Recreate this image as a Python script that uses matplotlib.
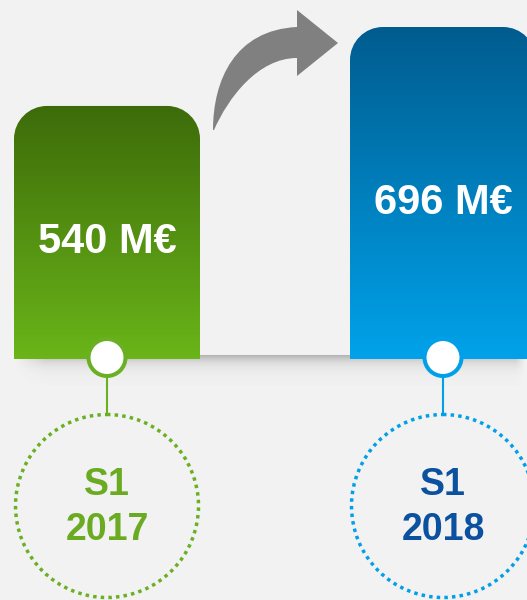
import numpy as np
import matplotlib
matplotlib.use("Agg")
import matplotlib.pyplot as plt
from matplotlib.path import Path
from matplotlib.patches import PathPatch, Circle
from matplotlib.colors import to_rgb

# ---- data ----
periods = ["S1", "S1"]
years = ["2017", "2018"]
values = [540, 696]
value_labels = ["540 M€", "696 M€"]

# ---- style ----
bg = "#f2f2f2"
grad_top = ["#3d6b0a", "#005c8f"]
grad_bot = ["#6ab519", "#00a2ea"]
ring_col = ["#6ab023", "#00a0e8"]
text_col = ["#6aab22", "#0b51a0"]

W, H = 527, 600
fig = plt.figure(figsize=(W / 100, H / 100), dpi=100)
fig.patch.set_facecolor(bg)
ax = fig.add_axes([0, 0, 1, 1])
ax.set_facecolor(bg)
ax.set_xlim(0, W)
ax.set_ylim(H, 0)
ax.axis("off")

# value scale (pixels)
BASE = 359.0
V0 = 40.0
K = (BASE - 27.0) / (max(values) - V0)


def ypx(v):
    return BASE - (v - V0) * K


centers = [107, 443]
bar_w = 186
radius = 33
kap = 0.5523


def rounded_top(x0, x1, top, bot, r):
    verts = [(x0, bot), (x0, top + r),
             (x0, top + r - kap * r), (x0 + r - kap * r, top), (x0 + r, top),
             (x1 - r, top),
             (x1 - r + kap * r, top), (x1, top + r - kap * r), (x1, top + r),
             (x1, bot), (x0, bot)]
    codes = [Path.MOVETO, Path.LINETO,
             Path.CURVE4, Path.CURVE4, Path.CURVE4,
             Path.LINETO,
             Path.CURVE4, Path.CURVE4, Path.CURVE4,
             Path.LINETO, Path.CLOSEPOLY]
    return Path(verts, codes)


# shadow band under the baseline
sh_h = 30
ys = np.linspace(0, 1, 60)
xs = np.linspace(0, 1, 200)
alpha_y = 0.42 * np.exp(-ys * 4.0)
alpha_x = np.clip(np.minimum(xs / 0.06, (1 - xs) / 0.02), 0, 1)
A = alpha_y[:, None] * alpha_x[None, :]
rgba = np.zeros((60, 200, 4))
rgba[..., :3] = 0.35
rgba[..., 3] = A
ax.imshow(rgba, extent=(14, W, BASE - 4 + sh_h, BASE - 4), aspect="auto",
          zorder=1, interpolation="bilinear")

# bars with gradient
for i, v in enumerate(values):
    x0 = centers[i] - bar_w / 2
    x1 = centers[i] + bar_w / 2
    top = ypx(v)
    path = rounded_top(x0, x1, top, BASE, radius)
    patch = PathPatch(path, facecolor="none", edgecolor="none", zorder=2)
    ax.add_patch(patch)
    n = 256
    t = np.linspace(0, 1, n)[:, None]
    c0 = np.array(to_rgb(grad_top[i]))
    c1 = np.array(to_rgb(grad_bot[i]))
    img = (c0[None, :] * (1 - t) + c1[None, :] * t)[:, None, :]
    im = ax.imshow(img, extent=(x0, x1, BASE, top), aspect="auto",
                   zorder=2, interpolation="bilinear")
    im.set_clip_path(patch)
    ax.text(centers[i], (top + BASE) / 2 + 9.5, value_labels[i], color="white",
            fontsize=30, fontweight="bold", family="Liberation Sans",
            ha="center", va="center", zorder=5)

# curved arrow
av = [(213, 130), (213, 80), (235, 30), (297, 27),
      (297, 10), (338, 43), (297, 76), (297, 58),
      (258, 58), (228, 98), (214, 130), (213, 130)]
ac = [Path.MOVETO, Path.CURVE4, Path.CURVE4, Path.CURVE4,
      Path.LINETO, Path.LINETO, Path.LINETO, Path.LINETO,
      Path.CURVE4, Path.CURVE4, Path.CURVE4, Path.CLOSEPOLY]
ax.add_patch(PathPatch(Path(av, ac), facecolor="#808080", edgecolor="none",
                       zorder=3))

# markers, stems, dotted circles, labels
for i in range(len(values)):
    cx = centers[i]
    ax.plot([cx, cx], [376, 414], color=ring_col[i], lw=1.5,
            solid_capstyle="butt", zorder=3)
    ax.add_patch(Circle((cx, 357.5), 18.5, facecolor="white",
                        edgecolor=ring_col[i], lw=2.9, zorder=4))
    ax.add_patch(Circle((cx, 506), 91.5, fill=False, edgecolor=ring_col[i],
                        lw=2.5, linestyle=(0, (1, 1.2)), zorder=3))
    ax.text(cx, 485, periods[i], color=text_col[i], fontsize=27,
            fontweight="bold", family="Liberation Sans",
            ha="center", va="center", zorder=5)
    ax.text(cx, 530, years[i], color=text_col[i], fontsize=27,
            fontweight="bold", family="Liberation Sans",
            ha="center", va="center", zorder=5)

ax.set_xlim(0, W)
ax.set_ylim(H, 0)
fig.savefig("out.png", dpi=100, facecolor=bg)
